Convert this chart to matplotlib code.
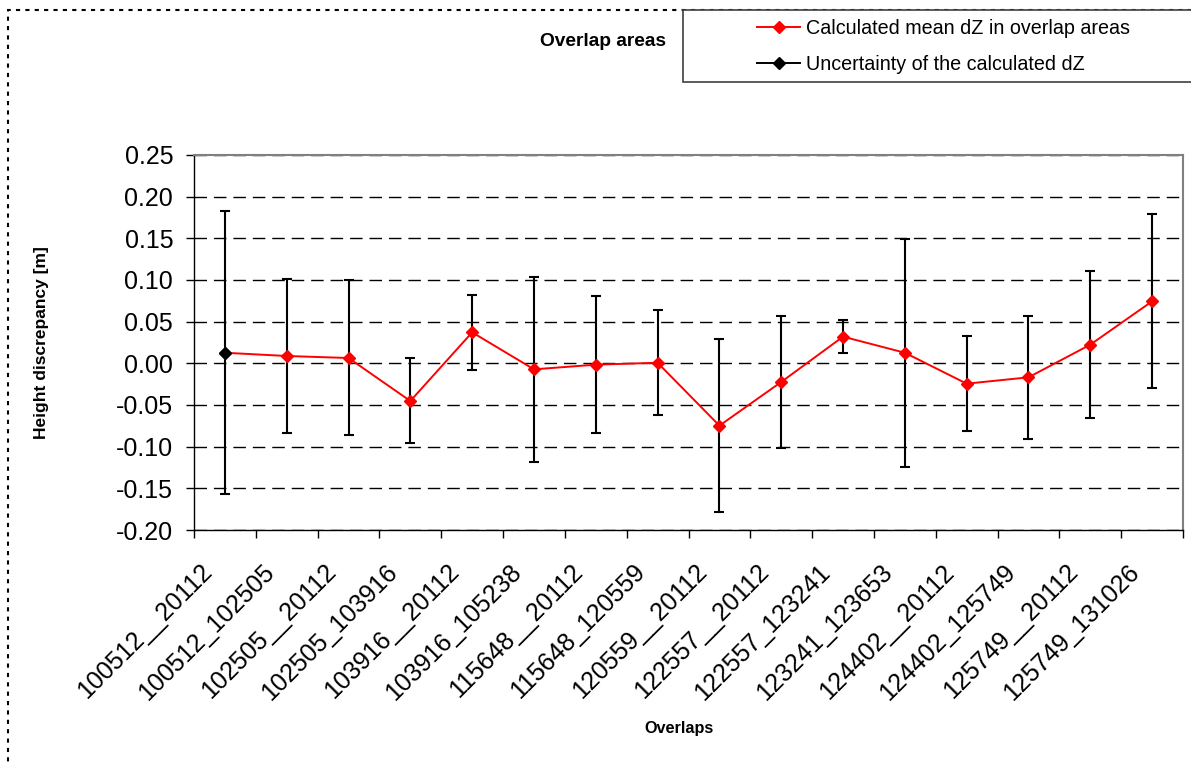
import matplotlib
matplotlib.use('Agg')
import matplotlib.pyplot as plt
from matplotlib.patches import Rectangle
from matplotlib.lines import Line2D
from matplotlib.ticker import FormatStrFormatter, FixedLocator
from matplotlib.transforms import ScaledTranslation
import numpy as np

overlaps = ["100512__20112", "100512_102505", "102505__20112", "102505_103916",
            "103916__20112", "103916_105238", "115648__20112", "115648_120559",
            "120559__20112", "122557__20112", "122557_123241", "123241_123653",
            "124402__20112", "124402_125749", "125749__20112", "125749_131026"]
mean_dz = [0.0127, 0.0088, 0.0064, -0.0452, 0.0372, -0.0072, -0.0016, 0.0007,
           -0.0748, -0.0224, 0.0320, 0.0127, -0.0244, -0.0168, 0.0224, 0.0744]
uncertainty = [0.170, 0.0925, 0.093, 0.051, 0.045, 0.111, 0.082, 0.063,
               0.104, 0.079, 0.020, 0.137, 0.057, 0.0735, 0.0886, 0.1044]
y_ticks = [-0.20, -0.15, -0.10, -0.05, 0.00, 0.05, 0.10, 0.15, 0.20, 0.25]

plt.rcParams['font.family'] = ['Liberation Sans', 'DejaVu Sans']

W, H = 1191, 763
fig = plt.figure(figsize=(W / 100, H / 100), dpi=100)
fig.patch.set_facecolor('white')

ax = fig.add_axes([194 / W, 1 - 530 / H, (1183 - 194) / W, (530 - 155) / H])
x = np.arange(len(overlaps))

ax.errorbar(x, mean_dz, yerr=uncertainty, fmt='none', ecolor='black',
            elinewidth=1.5, capsize=3.8, capthick=1.5, zorder=3)
ax.plot(x, mean_dz, color='red', lw=1.4, marker='D', ms=6, mfc='red',
        mec='red', zorder=4)
ax.plot(x[:1], mean_dz[:1], ls='none', marker='D', ms=6, mfc='black',
        mec='black', zorder=5)

ax.set_xlim(-0.5, len(overlaps) - 0.5)
ax.set_ylim(y_ticks[0], y_ticks[-1])
ax.set_yticks(y_ticks)
ax.yaxis.set_major_formatter(FormatStrFormatter('%.2f'))
ax.set_xticks(x)
ax.xaxis.set_minor_locator(FixedLocator(np.arange(-0.5, len(overlaps), 1.0)))
ax.tick_params(axis='x', which='major', length=0, pad=21.5)
ax.tick_params(axis='x', which='minor', length=6, width=1, direction='out')
ax.tick_params(axis='y', length=6, width=1, direction='out', pad=9,
               labelsize=18)
ax.set_xticklabels(overlaps, rotation=45, ha='right', va='top',
                   rotation_mode='anchor', fontsize=18)
shift = ScaledTranslation(-0.25, 0, fig.dpi_scale_trans)
for lab in ax.get_xticklabels():
    lab.set_transform(lab.get_transform() + shift)

ax.set_axisbelow(True)
ax.yaxis.grid(True, linestyle=(0, (9, 5)), color='black', lw=1)

for s in ['left', 'bottom']:
    ax.spines[s].set_color('black')
    ax.spines[s].set_linewidth(1)
for s in ['top', 'right']:
    ax.spines[s].set_color('#808080')
    ax.spines[s].set_linewidth(1.5)

ax.set_ylabel('Height discrepancy [m]', fontweight='bold', fontsize=12.5)
ax.yaxis.set_label_coords((49 - 194) / (1183 - 194), 0.5)
fig.text(679 / W, 1 - 728 / H, 'Overlaps', fontweight='bold', fontsize=11.7,
         ha='center', va='center')

# chart area dotted border
top = 1 - 10 / H
fig.add_artist(Rectangle((8 / W, -0.2), 1.2, top + 0.2, transform=fig.transFigure,
                         fill=False, ec='black', lw=1.5, ls=(0, (2, 2.5)), zorder=1))

# legend box
fig.add_artist(Rectangle((683 / W, 1 - 82 / H), 1.0, 72 / H, transform=fig.transFigure,
                         fc='white', ec='#404040', lw=1.2, zorder=2))
fig.text(603 / W, 1 - 42 / H, 'Overlap areas', fontweight='bold', fontsize=13.8,
         ha='center', va='center')

handles = [Line2D([], [], color='red', lw=1.4, marker='D', ms=6, mfc='red', mec='red'),
           Line2D([], [], color='black', lw=1.4, marker='D', ms=6, mfc='black', mec='black')]
leg = fig.legend(handles, ['Calculated mean dZ in overlap areas',
                           'Uncertainty of the calculated dZ'],
                 loc='upper left', bbox_to_anchor=(757 / W, 1 - 19 / H),
                 frameon=False, fontsize=14.2, handlelength=2.2,
                 handletextpad=0.3, labelspacing=0.84, borderpad=0,
                 borderaxespad=0)
leg.set_zorder(3)

fig.savefig('out.png', dpi=100)
